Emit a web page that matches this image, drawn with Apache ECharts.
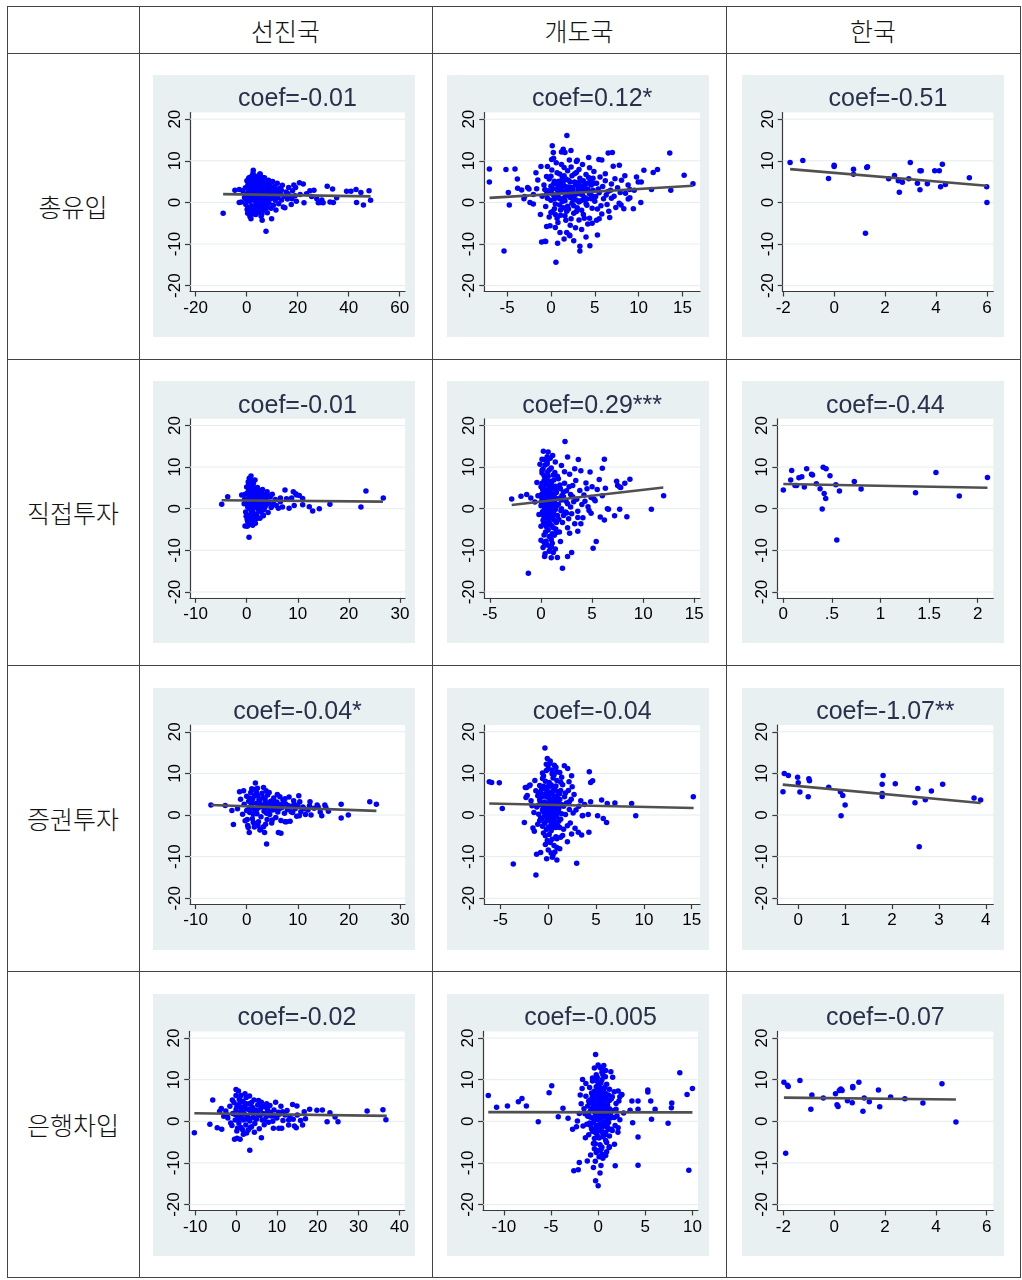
<!DOCTYPE html>
<html><head><meta charset="utf-8">
<script src="https://cdn.jsdelivr.net/npm/echarts@6/dist/echarts.min.js"></script>
<style>
html,body{margin:0;padding:0;background:#fff;}
#wrap{position:relative;width:1022px;height:1280px;overflow:hidden;}
.ln{position:absolute;background:#444;}
.hd{position:absolute;font-family:"Noto Sans CJK KR",sans-serif;font-weight:300;font-size:25px;color:#111;transform:translate(-50%,-50%);white-space:nowrap;}
.bg{position:absolute;background:#e9f0f2;}
#chart{position:absolute;left:0;top:0;width:1022px;height:1280px;}
</style></head><body>
<div id="wrap"><div id="chart"></div></div>
<script>
// ---------- labels ----------
const colLabels = ['선진국', '개도국', '한국'];
const rowLabels = ['총유입', '직접투자', '증권투자', '은행차입'];
const coefLabels = ['coef=-0.01', 'coef=0.12*', 'coef=-0.51',
                    'coef=-0.01', 'coef=0.29***', 'coef=-0.44',
                    'coef=-0.04*', 'coef=-0.04', 'coef=-1.07**',
                    'coef=-0.02', 'coef=-0.005', 'coef=-0.07'];
// ---------- axes ----------
const yTicks = [-20, -10, 0, 10, 20];
const yRange = [-21.4, 21.6];
const xTicks = [[-20,0,20,40,60],[-5,0,5,10,15],[-2,0,2,4,6],
                [-10,0,10,20,30],[-5,0,5,10,15],[0,0.5,1,1.5,2],
                [-10,0,10,20,30],[-5,0,5,10,15],[0,1,2,3,4],
                [-10,0,10,20,30,40],[-10,-5,0,5,10],[-2,0,2,4,6]];
const xTickLabels = [['-20','0','20','40','60'],['-5','0','5','10','15'],['-2','0','2','4','6'],
                ['-10','0','10','20','30'],['-5','0','5','10','15'],['0','.5','1','1.5','2'],
                ['-10','0','10','20','30'],['-5','0','5','10','15'],['0','1','2','3','4'],
                ['-10','0','10','20','30','40'],['-10','-5','0','5','10'],['-2','0','2','4','6']];
const xMins = [-22.2, -7.6, -2.02, -11.1, -5.55, -0.062, -11.1, -6.69, -0.446, -11.46, -12.2, -2.24];
const xMaxs = [62.1, 17.0, 6.25, 31.0, 15.56, 2.16, 31.0, 15.87, 4.16, 41.3, 10.58, 6.26];
// ---------- fitted lines (endpoints) ----------
const fitX0 = [-9.2, -7.0, -1.73, -4.9, -2.87, 0.0, -7.0, -6.17, -0.33, -10.2, -11.65, -1.98];
const fitX1 = [48.6, 16.2, 6.0, 26.7, 11.97, 2.1, 25.4, 15.2, 3.89, 36.9, 10.0, 4.79];
const fitY0 = [2.0, 1.1, 8.0, 2.05, 0.9, 5.95, 2.4, 2.75, 7.3, 1.95, 2.2, 5.7];
const fitY1 = [1.45, 4.0, 4.0, 1.7, 5.1, 5.03, 1.0, 1.7, 2.9, 1.3, 2.15, 5.25];

// ---------- scatter data ----------
const advTotal = [[-1.5,2.8],[-0.8,1.2],[-0.5,3.5],[0,0.5],[0.2,2.1],[0.5,4.2],[0.6,-1.2],[0.8,5.8],[1,2.7],[1.2,0.3],[1.3,3.8],[1.5,-2.1],[1.6,1.5],[1.8,4.9],[2,6.3],[2,-0.8],[2.2,2.4],[2.4,3.2],[2.5,0.9],[2.6,-2.8],[2.8,5.1],[3,1.8],[3,4.4],[3.1,-1.5],[3.3,2.9],[3.4,0.2],[3.5,6.1],[3.6,3.6],[3.8,-0.6],[3.9,1.3],[4,4.8],[4.1,2.2],[4.3,-2.4],[4.4,3.1],[4.5,0.7],[4.6,5.4],[4.8,1.9],[5,-1.1],[5,3.9],[5.2,2.6],[5.3,6.8],[5.4,0.1],[5.6,4.5],[5.7,-3.3],[5.8,1.4],[6,3.2],[6.1,5.2],[6.2,-0.4],[6.4,2.3],[6.5,4.1],[6.6,0.8],[6.8,-1.9],[6.9,3.5],[7,5.9],[7.2,1.6],[7.3,-0.9],[7.5,2.9],[7.6,4.7],[7.8,0.4],[8,2.1],[8.1,-2.5],[8.3,3.7],[8.5,1.2],[8.6,5.3],[8.8,-0.2],[9,2.6],[9.2,4.3],[9.4,0.9],[9.6,-1.4],[9.8,3.1],[10,1.7],[10.2,5],[10.5,-0.7],[10.7,2.4],[11,3.8],[11.2,0.5],[11.5,-1.8],[11.8,2.9],[12,4.6],[12.3,1.1],[12.6,-0.3],[13,3.4],[13.3,2],[13.7,0.6],[14,4.1],[14.4,-1.1],[15,-1.3],[15.5,2.5],[16,0.8],[16.5,3.6],[17,1.5],[17.5,-0.5],[18,2.8],[18.5,4.2],[19.2,3.6],[19.5,0.3],[20.7,4.7],[21,1.9],[22.2,4.4],[22.5,-0.1],[23.5,2.1],[24.8,2.8],[25.5,1.4],[26.4,2.9],[27.5,0.9],[28.1,-0.1],[29,0],[29.5,0.6],[30,-0.1],
 [0.3,1.0],[0.9,3.1],[1.4,2.0],[1.9,1.1],[2.3,4.0],[2.7,2.2],[3.2,3.3],[3.7,1.0],[4.2,2.7],[4.7,3.6],[5.1,1.6],[5.5,2.9],[5.9,0.6],[6.3,3.8],[6.7,2.0],[7.1,3.3],[7.4,0.9],[0.1,5.2],[1.1,6.0],[2.9,6.4],[4.0,5.9],[-0.3,-0.5],[0.4,-2.6],[1.0,-1.6],[2.1,-2.0],[3.6,-2.9],[4.9,-2.2],[6,-2.7],[7.9,-1.2],
 [0.6,2.4],[1.2,4.6],[1.7,0.6],[2.1,3.1],[2.6,4.8],[3.1,0.9],[3.5,2.4],[3.9,4.2],[4.4,1.4],[4.9,2.8],[5.3,0.5],[5.7,3.7],[6.1,1.1],[6.6,4.6],[7,2.4],[7.5,0.1],[8,3.4],[8.4,1.8],[8.9,2.9],[9.5,1.6],[10.5,2.9],[11.4,1.3],[12.2,2.4],[13.6,3],[14.8,1.5],[16.2,2.1],[17.8,0.9],[19,1.6],[2.3,-1.1],[3.4,-1.6],[4.6,-0.9],[5.8,-1.3],[1.3,1.7],[1.9,5.5],[3.3,5.8],[4.3,6.3],[2.5,7],[6.3,6],[0.2,-1.7],[8.7,4],
 [-9.2,-2.6],[-4.6,2.9],[-2.9,3.1],[-2.9,0],[-2,0.1],[2.6,7.7],[5.2,6.8],[1.3,-3.4],[1.7,-3.9],[6.1,-4.3],[7.6,-6.9],[9.8,-3.9],[31.6,3.9],[33.7,3.2],[32.7,0.1],[35.3,1.1],[34,0],[39.2,2.7],[40.9,2.7],[42.9,3.1],[43.1,0],[44.8,2.4],[45.8,-0.6],[48,2.8],[48.6,0.5]];

const devTotal = [[-1,1.5],[-0.8,4.2],[-0.6,-1],[-0.5,6.2],[-0.3,2.8],[-0.2,-3.5],[0,0.5],[0,3.9],[0.1,7.8],[0.2,-2.2],[0.3,1.8],[0.4,5.1],[0.5,-0.4],[0.6,9.5],[0.7,3.1],[0.8,-4.8],[0.9,1.2],[1,6.8],[1.1,-1.8],[1.2,4.4],[1.3,0.2],[1.4,2.5],[1.5,8.4],[1.6,-3.2],[1.7,5.6],[1.8,1.6],[1.9,-0.9],[2,3.7],[2.1,10.2],[2.2,-5.5],[2.3,2.2],[2.4,6.4],[2.5,0.8],[2.6,-2.6],[2.7,4.9],[2.8,1.9],[2.9,7.2],[3,-1.3],[3.1,3.3],[3.2,-4.2],[3.3,5.8],[3.4,0.4],[3.5,2.7],[3.6,9.1],[3.7,-2.9],[3.8,4.1],[3.9,1.1],[4,6.7],[4.1,-0.7],[4.2,3.2],[4.3,10.8],[4.4,-3.8],[4.5,5.3],[4.6,1.7],[4.7,-5],[4.8,2.9],[4.9,7.4],[5,0.3],[5.2,4.6],[5.3,-1.6],[5.5,2.3],[5.6,6.1],[5.8,-2.8],[5.9,3.8],[6,0.9],[6.2,5.2],[6.4,-0.5],[6.5,2.6],[6.7,-3.6],[6.9,4.4],[7,12],[7.2,1.5],[7.4,-1.2],[7.6,3.5],[7.8,8.9],[8,-0.6],[8.5,2.2],[9,1.1],[9.4,-1.5],[-1.5,5.4],[-2,1.9],[-2.5,3.2],[-3,1.4],[-0.4,8.6],[0.3,10.6],[1.8,-7.2],[3.5,-6.5],[2.6,-9.2],[1.5,-8.8],[-0.6,-9.4],[0.5,-6],[4.2,-5.2],[5.5,-3.9],[1.2,12.1],[2.9,9.8],[5.8,10.2],[6.2,6.9],
 [0.2,3.3],[0.4,0.9],[0.6,4.7],[0.8,2.3],[1,-0.6],[1.1,3.6],[1.3,5.9],[1.5,1.1],[1.6,3.9],[1.8,-2.1],[2,2.6],[2.2,4.9],[2.4,-0.2],[2.5,3.1],[2.7,6.9],[2.9,0.6],[3.1,4.7],[3.3,2.1],[3.5,-1.9],[3.7,5.2],[3.9,3.3],[4.1,0.8],[4.3,6],[4.5,2.5],[4.7,-1.4],[4.9,4.6],[5.1,1.4],[5.4,3.2],[0,6.3],[0.5,-2.9],[-0.4,1],[-0.7,3.1],[1.7,-4.3],[2.3,8.5],[3.2,7.9],[3.8,-3.8],[4.4,8.3],[5.7,-0.8],[6.3,1.8],[6.8,2.9],[7.3,5.7],[0.9,5.1],[1.4,-1.3],[2.6,1.4],[3.4,3.8],[4.6,4.2],[-0.1,-5.6],[1.2,9.1],[2.1,-7.8],[6.6,-2.1],[8.8,4.2],[9.5,2.9],[-1.2,-2.9],[5.2,-4.3],[0.7,-3.8],[3.0,10.1],[4.0,-8.3],[2.8,-6.1],[6.9,1.0],[7.9,2.4],
 [0.1,2.2],[0.3,4.4],[0.6,1.4],[0.8,3.8],[1.0,0.9],[1.2,2.9],[1.4,4.9],[1.6,0.4],[1.8,3.2],[2.0,5.3],[2.2,1.2],[2.4,3.6],[2.6,-0.8],[2.8,4.2],[3.0,2.4],[3.2,0.1],[3.4,5.1],[3.6,1.8],[3.8,3.4],[4.0,-0.3],[4.2,4.6],[4.4,2.1],[4.6,0.9],[4.8,5.8],[0.4,-1.5],[1.1,-3.1],[2.0,-1.6],[2.9,-2.2],[3.7,0.7],[-0.2,5.6],[0.7,7.1],[1.9,7.6],[0.0,-2.4],[1.5,6.4],[2.3,-3.9],[-0.5,2.0],
 [-7.02,8.0],[-7.02,4.9],[-5.13,7.9],[-5.35,-11.7],[-4.86,2.4],[-4.75,-0.6],[-4.1,8.0],[-3.83,5.6],[-3.8,3.4],[-3.34,3.0],[-3.08,0.9],[-2.66,3.6],[-2.39,0],[-2.01,-0.4],[-1.71,7.1],[-1.63,3.3],[-1.14,8.6],[-1.06,-9.5],[-0.68,-9.3],[-0.49,-5.8],[0.08,10.3],[0.15,13.6],[0.27,12.0],[0.57,-14.4],[0.76,-9.8],[1.03,-7.2],[1.4,12.8],[1.6,12.0],[1.82,16.1],[2.28,12.5],[2.16,-8.0],[3.3,-11.7],[3.3,-10.5],[4.44,-10.4],[5.3,-7.8],[5.47,10.3],[6.53,11.9],[7.1,8.7],[8.05,5.3],[8.43,6.4],[7.78,-0.2],[8.31,-1.5],[8.81,0.8],[9.0,3.1],[9.76,6.1],[9.95,4.9],[10.3,4.9],[10.6,7.7],[10.25,0],[11.66,7.2],[12.15,7.9],[11.47,3.1],[13.55,11.9],[13.67,2.9],[15.19,6.5],[16.2,4.5]];

const korTotal = [[-1.73,9.57],[-1.23,10.05],[-0.22,5.74],[0,8.9],[0,8.6],[0.76,7.97],[0.76,6.78],[1.23,-7.4],[1.28,8.4],[1.31,8.55],[2.14,5.66],[2.37,6.46],[2.52,5.18],[2.56,2.47],[2.68,4.86],[2.93,5.66],[2.99,9.57],[3.27,4.62],[3.37,7.58],[3.42,7.58],[3.37,3.03],[3.66,4.46],[3.95,7.58],[4.13,7.58],[4.18,3.75],[4.25,9.17],[4.37,4.3],[5.31,5.9],[5.99,3.75],[6.0,0]];

const advFdi = [[-0.5,1.2],[-0.3,3.5],[-0.2,-0.8],[0,2.1],[0,5.2],[0.1,-2.6],[0.2,0.4],[0.2,3.9],[0.3,6.4],[0.4,1.5],[0.4,-1.7],[0.5,2.8],[0.6,4.7],[0.6,-3.4],[0.7,0.8],[0.8,3.2],[0.8,6.1],[0.9,-0.6],[1,1.9],[1,4.3],[1.1,-2.2],[1.2,2.6],[1.2,5.6],[1.3,0.1],[1.4,3.7],[1.4,-1.2],[1.5,1.3],[1.6,4.9],[1.7,-3.5],[1.8,2.3],[1.9,0.6],[2,3.4],[2,-1.9],[2.1,5.1],[2.2,1.7],[2.3,-0.3],[2.4,2.9],[2.5,4.2],[2.6,-2.3],[2.7,1],[2.8,3.8],[2.9,0.2],[3,2.5],[3.1,4.6],[3.2,-1.5],[3.3,1.6],[3.5,3.1],[3.6,0.5],[3.8,2],[4,4.1],[4.2,-0.9],[4.4,1.4],[4.6,2.8],[4.8,0.3],[5,3.5],[5.3,1.1],[5.6,2.2],[6.2,0.1],[6.6,2.6],[7,0.4],[7.8,2.4],[8.3,0.1],[8.8,2.6],[9.3,0.8],[9.6,3.6],[10.3,3.2],[0.5,7.3],[0.1,-4.2],[1.9,-2.4],
 [0.1,1.2],[0.3,2.4],[0.4,4.3],[0.5,0.1],[0.6,1.9],[0.7,3.6],[0.8,-1.3],[0.9,2.9],[1,0.6],[1.1,4.8],[1.1,1.3],[1.2,-0.8],[1.3,2.2],[1.5,3.4],[1.6,0.4],[1.7,1.6],[1.8,4.5],[1.9,-1.4],[2.1,2.4],[2.2,0.9],[2.3,3.9],[2.5,1.1],[2.6,2.8],[2.8,-0.8],[3,1.3],[3.2,3.5],[3.4,-0.2],[3.7,2.6],[3.9,1],[4.3,3.2],[0.2,-3.1],[0.7,-2.5],[1.4,-2.9],[0.4,5.8],[1.3,6.1],[0.9,6.9],[-0.4,2.3],[-0.1,-1.8],[5.8,0.8],[6.6,1.7],
 [-4.89,1.05],[-3.72,2.89],[-0.98,3.28],[-0.33,-4.14],[0.2,-4.06],[0.46,-6.87],[0.85,7.83],[1.63,6.87],[1.17,-3.98],[3.26,-1.67],[7.5,4.48],[9.13,4.08],[9.78,3.28],[10.96,2.48],[10.96,0.97],[12.26,0.49],[12.92,-0.55],[14.22,0],[16.3,1.05],[22.37,0.41],[23.35,4.24],[26.75,2.56]];

const devFdi = [[-0.3,3.1],[-0.2,-1.4],[0,0.7],[0,5.3],[0,-4.2],[0.1,2.2],[0.1,8.6],[0.2,-2.8],[0.2,4.4],[0.3,-0.5],[0.3,6.7],[0.3,-6.3],[0.4,1.6],[0.4,10.5],[0.5,-3.5],[0.5,3.6],[0.5,7.5],[0.6,-1.1],[0.6,-8.7],[0.7,2.8],[0.7,5.9],[0.7,-5.1],[0.8,0.2],[0.8,9.3],[0.9,-2.1],[0.9,4.1],[0.9,12.1],[1,1.4],[1,-7.4],[1,6.3],[1.1,-0.4],[1.1,3.2],[1.2,-4.6],[1.2,8.1],[1.3,1.9],[1.3,-2.8],[1.4,5.4],[1.4,-9.7],[1.5,0.6],[1.5,3.9],[1.6,-1.6],[1.7,7.2],[1.8,2.5],[1.8,-5.6],[1.9,4.8],[2,0],[2,10.4],[2.1,-3.3],[2.2,2.9],[2.3,6.1],[2.4,-0.8],[2.5,4.3],[2.6,1.2],[2.7,-2.4],[2.8,8.3],[2.9,3.4],[3,-1.2],[3.1,5.6],[3.2,1.7],[3.3,-3.6],[3.4,6.8],[3.5,2.3],[3.6,-0.6],[3.8,4.4],[3.9,9.1],[4,1],[4.1,-2.2],[4.2,3.3],[4.4,6.2],[4.6,0.5],[4.7,-0.4],[4.8,8.8],[4.9,2.7],[5,5.3],[5.3,1.9],[5.5,4.6],[5.8,-2],[6,3.1],[6.3,4.9],[6.6,-0.1],[7.5,5.6],[7.7,5.2],[-0.1,10.7],[0.3,11.8],[0.6,12.5],[1.2,-10.5],[0.4,-10.8],[1.6,-11.7],[0.2,-9.3],[1.5,-5.7],[1.9,-7.9],[-0.4,6.3],[-0.6,1.6],[-1,2.6],
 [0.05,1.5],[0.1,-1.3],[0.15,4.8],[0.2,2.9],[0.25,-3.7],[0.3,7.9],[0.35,0.3],[0.4,3.9],[0.45,-5.6],[0.5,5.9],[0.55,1.1],[0.6,-2.3],[0.65,8.8],[0.7,0.9],[0.75,3.4],[0.8,-3.1],[0.85,6.6],[0.9,-0.9],[0.95,2.4],[1,9.8],[1.05,-4.1],[1.1,4.9],[1.15,-1.9],[1.2,0.7],[1.25,6.9],[1.3,-6.4],[1.35,2.7],[1.4,-0.2],[1.45,4.6],[1.5,-3.3],[1.6,7.8],[1.7,1.1],[1.75,-2.6],[1.85,5.7],[1.95,-0.5],[2.05,3.2],[2.2,-1.6],[2.3,8.9],[2.45,1.8],[2.6,-4.6],[2.75,5.3],[2.9,0.4],[3.1,2.9],[3.3,9.6],[3.6,-2.1],[0.0,-7.6],[0.5,-7.8],[0.9,-9.4],[1.1,-8.3],[0.2,9.6],[0.6,10.8],[1.4,11.2],[0.1,11.9],[0.7,13.6],[4.3,1.8],[4.5,4.8],[5.2,2.3],[3.9,-3.6],[4.9,-1.1],[0.35,-11.5],[1.0,-11.8],[0.8,-10.2],
 [0.05,3.4],[0.1,6.1],[0.15,-0.7],[0.2,1.1],[0.25,5.0],[0.3,-2.0],[0.35,2.4],[0.4,7.0],[0.45,-0.9],[0.5,4.5],[0.55,-4.4],[0.6,2.1],[0.65,0.1],[0.7,7.8],[0.75,-1.7],[0.8,4.9],[0.85,1.8],[0.9,-3.8],[0.95,6.0],[1.0,0.1],[1.05,2.8],[1.1,-6.0],[1.15,5.4],[1.2,2.3],[1.25,-1.2],[1.3,3.6],[1.35,8.7],[1.4,1.2],[1.45,-4.9],[0.0,3.0],[0.3,-8.1],[0.8,-6.7],[0.1,9.2],[0.6,11.4],[1.0,-9.0],[2.0,2.1],[2.5,-1.0],[2.2,4.0],
 [-2.87,2.32],[-1.96,3.0],[-1.4,3.4],[-1.24,-15.48],[0.23,13.8],[1.14,12.8],[2.35,16.12],[2.6,12.4],[3.65,11.8],[2.1,-14.3],[2.6,-11.5],[3.0,-10.5],[2.8,-5.9],[3.6,-5.4],[5.1,-9.5],[5.4,-7.9],[5.7,7.0],[6.0,9.7],[6.2,11.9],[6.2,-2.7],[6.5,0],[7.2,-1.7],[7.4,6.6],[7.7,-0.1],[7.8,5.1],[8.2,6.1],[8.4,-1.9],[8.7,7.1],[10.8,-0.1],[12.0,3.1]];

const korFdi = [[0,4.48],[0.076,6.87],[0.086,9.19],[0.12,5.6],[0.137,5.6],[0.16,7.43],[0.19,7.67],[0.216,5.2],[0.24,9.59],[0.29,8.3],[0.30,8.07],[0.34,5.99],[0.378,4.8],[0.40,-0.07],[0.41,9.99],[0.42,3.68],[0.436,2.48],[0.44,9.59],[0.48,7.91],[0.54,5.76],[0.55,-7.5],[0.577,4.24],[0.73,6.55],[0.80,4.72],[1.36,3.84],[1.57,8.71],[1.81,3.04],[2.10,7.51]];

const advPort = [[-1.8,1.5],[-1.2,3.8],[-0.8,0.2],[-0.5,2.6],[-0.3,-1.4],[0,4.5],[0,1.1],[0.2,-2.5],[0.4,3.3],[0.6,0.6],[0.8,5.4],[0.9,2.1],[1.1,-0.9],[1.2,3.9],[1.4,1.4],[1.6,6.1],[1.7,-2.2],[1.9,2.8],[2,0.3],[2.2,4.6],[2.3,-1.6],[2.5,1.9],[2.6,3.5],[2.8,-0.4],[3,5.2],[3.1,2.4],[3.3,-2.8],[3.4,0.9],[3.6,3.9],[3.8,1.6],[4,-1.1],[4.1,4.8],[4.3,2.9],[4.5,0.1],[4.7,3.3],[4.9,-1.9],[5.1,1.2],[5.3,4.1],[5.5,2.2],[5.7,-0.6],[5.9,3.1],[6.1,0.7],[6.3,2.5],[6.5,4.4],[6.7,-1.3],[6.9,1.8],[7.1,3.6],[7.4,0.4],[7.6,2.7],[7.8,-1.6],[8,1.3],[8.3,4.3],[8.5,-1.5],[8.8,2.1],[9,0.6],[9.2,3.4],[9.5,1.5],[9.8,-0.3],[10,2.4],[10.6,0.8],[11,1.9],[11.5,0.1],[12,1.2],[12.6,0],[13.2,1.6],[14,1.9],[14.4,0.7],[15.5,1.8],[16,0.9],[0.3,-3],[1.5,-2.9],[2.7,-3.4],[6.2,-4.2],[-0.6,5.8],[1,6.3],[2.1,6.4],[4.4,5.4],[0.7,2],[1.8,1.2],[2.4,2.9],[3.5,1.9],[4.6,1.2],[1.3,0.2],[3.9,0.4],[5.4,2.8],
 [0.5,1.6],[1,2.9],[1.5,4.6],[2,1.4],[2.4,3.7],[2.9,2],[3.2,4.2],[3.7,3],[4.2,1.8],[4.8,2.4],[5.2,3.6],[5.6,1.3],[6,4.9],[6.4,1.5],[7,2.6],[7.5,3.9],[8.1,2.3],[8.7,0.8],[9.3,2.5],[10.4,3.2],[11.3,1.5],[12.3,2.2],[0.1,-1.1],[1.3,-1.8],[2.2,-2.5],[3.7,-2.2],[5,-1.2],[0.6,4.1],[1.9,5.5],[3.8,5.8],
 [-7.0,2.4],[-4.2,2.3],[-2.9,1.1],[-2.6,-2.3],[-1.4,5.6],[0.5,-4.2],[1.7,7.7],[3.3,6.6],[2.6,-3.6],[3.5,-4.2],[3.9,-6.95],[6.7,-4.4],[10.2,4.6],[7.5,-1.6],[10.3,-0.2],[12.4,3.2],[13.8,2.4],[14.7,-0.2],[15.3,2.4],[18.5,2.6],[18.5,-0.7],[19.9,0],[24.1,3.2],[25.4,2.6]];

const devPort = [[-1.8,3.4],[-1.5,0.6],[-1.3,5.8],[-1.1,-2.2],[-1,2.4],[-0.9,7.1],[-0.8,-0.7],[-0.7,4.3],[-0.6,1.2],[-0.5,-4.3],[-0.5,9.4],[-0.4,3.1],[-0.3,-1.6],[-0.3,6.2],[-0.2,0.3],[-0.1,2.7],[-0.1,-6.1],[0,4.9],[0,-2.9],[0,11.1],[0.1,1.6],[0.1,7.8],[0.2,-0.5],[0.2,3.6],[0.3,-3.8],[0.3,5.4],[0.4,0.9],[0.4,9.9],[0.5,-1.8],[0.5,2.2],[0.6,6.7],[0.6,-7.3],[0.7,4],[0.7,-0.2],[0.8,1.9],[0.8,-5.2],[0.9,8.3],[1,3.1],[1,-2.6],[1.1,0.6],[1.2,5.1],[1.3,-1],[1.4,2.5],[1.5,7.3],[1.6,-3.4],[1.7,4.4],[1.8,0.1],[1.9,2.9],[2,-6.4],[2.1,5.9],[2.2,1.3],[2.3,-1.9],[2.4,3.8],[2.6,0.5],[2.7,4.9],[2.8,-3.2],[3.2,2.1],[3.4,3.4],[3.6,-0.1],[1.2,-8.1],[0.5,-9.6],[0.9,-10.8],[-0.8,-9.0],[0.2,13],[-0.2,10.7],[0.8,11.5],[1.2,10.2],[-1.9,7.2],[-2.2,4.7],[-2.4,6.6],
 [-1.2,1.9],[-1.1,4.6],[-0.9,-1.4],[-0.8,2.8],[-0.7,6.4],[-0.6,-2.7],[-0.5,0.8],[-0.4,4.9],[-0.4,-0.3],[-0.3,8.1],[-0.2,2.2],[-0.2,-3.5],[-0.1,5.8],[0,1.3],[0,-1.1],[0.1,3.9],[0.1,-4.7],[0.2,6.9],[0.2,0.5],[0.3,2.8],[0.3,-2.2],[0.4,5.2],[0.4,-5.8],[0.5,0.2],[0.5,8.9],[0.6,3.4],[0.6,-1.3],[0.7,1.6],[0.7,6],[0.8,-3],[0.8,4.5],[0.9,0.9],[0.9,-7.8],[1,5.6],[1,1.9],[1.1,-1.5],[1.2,3.7],[1.3,7.9],[1.4,0.3],[1.5,-4.9],[1.6,2.1],[1.8,5.3],[2,-2.6],[2.2,3.2],[-1.6,-3.1],[-1.4,8.3],[-1.7,2.2],[0,-8.4],[0.3,-9.1],[-0.3,-7.1],[0.7,-8.9],[0.4,10.8],[-0.6,10.1],[0.9,10.4],[1.4,9.1],[-1,5.1],[2.5,6.8],[2.9,1.2],[3.8,2.5],[-0.2,12.2],
 [-1.0,0.2],[-0.9,3.6],[-0.8,5.6],[-0.7,-0.9],[-0.6,2.3],[-0.5,6.9],[-0.4,-2.0],[-0.3,1.8],[-0.2,4.4],[-0.1,-0.5],[0,2.0],[0,6.9],[0.1,0.2],[0.1,4.8],[0.2,-1.4],[0.2,2.6],[0.3,7.3],[0.3,0.8],[0.4,-3.2],[0.4,3.3],[0.5,5.8],[0.5,-0.8],[0.6,1.1],[0.6,4.2],[0.7,-2.2],[0.8,2.9],[0.8,7.0],[0.9,-0.4],[1.0,4.0],[1.1,1.5],[1.2,-3.0],[1.3,5.9],[-0.3,-5.0],[0.2,-6.6],[0.9,-5.7],[-0.6,8.8],[0.6,9.6],[0.0,12.0],
 [-6.17,7.98],[-5.92,7.82],[-5.12,7.74],[-4.81,1.59],[-3.66,-11.74],[-2.5,-1.77],[-2.33,4.22],[-2.26,6.62],[-1.98,7.02],[-1.46,-3.92],[-1.22,-9.43],[-1.29,-14.38],[-0.35,16.12],[-0.1,13.56],[0.18,12.45],[0.63,11.97],[1.68,11.81],[2.97,-11.58],[0.42,-10.14],[-0.17,-10.53],[1.29,-5.36],[2.44,-4.56],[2.44,9.41],[2.17,7.98],[2.03,11.17],[3.14,-4.16],[3.49,-4.8],[3.56,-0.17],[4.25,-4.16],[4.18,0.15],[4.29,10.37],[4.43,7.82],[4.64,8.22],[4.43,3.19],[5.16,-0.17],[5.58,3.59],[5.75,-0.81],[6.1,-1.77],[6.17,2.79],[6.97,2.87],[8.72,2.79],[9.15,-0.17],[15.17,4.38]];

const korPort = [[-0.325,5.58],[-0.297,9.97],[-0.21,9.49],[-0.013,9.1],[0,7.74],[0.036,5.5],[0.213,4.38],[0.227,8.69],[0.24,8.22],[0.65,6.7],[0.9,5.58],[0.914,-0.17],[0.95,4.7],[1.0,2.39],[1.79,7.42],[1.79,5.18],[1.79,4.46],[1.81,9.49],[2.07,7.5],[2.49,2.95],[2.55,6.38],[2.58,-7.6],[2.71,3.66],[2.84,5.74],[3.08,7.42],[3.75,4.06],[3.89,3.59]];

const advBank = [[-2.5,2.5],[-2,0.8],[-1.5,3.6],[-1,-1],[-0.8,1.9],[-0.5,4.5],[-0.2,0.3],[0,2.8],[0,6.2],[0.2,-2.3],[0.3,1.4],[0.5,3.9],[0.7,-0.4],[0.8,5.3],[1,2.2],[1.2,-1.5],[1.3,3.3],[1.5,0.7],[1.7,4.8],[1.8,-3.1],[2,1.8],[2.2,3.8],[2.4,-0.9],[2.5,5.7],[2.7,1.2],[2.9,2.9],[3,-2.1],[3.2,4.2],[3.4,0.1],[3.6,2.4],[3.8,-1.3],[4,3.4],[4.2,1],[4.4,5.1],[4.6,-0.5],[4.8,2.7],[5,0.5],[5.3,3.9],[5.5,1.6],[5.7,-1.8],[6,2.9],[6.2,4.6],[6.4,0.3],[6.6,1.9],[6.9,-0.8],[7.1,3.5],[7.4,1.1],[7.7,2.4],[8,-0.2],[8.3,3.8],[8.6,1.3],[9,0],[9.3,2.7],[9.7,4.6],[10,0.8],[10.4,2.2],[11,3.6],[11.5,0.2],[12,1.5],[12.5,2.6],[13.2,1.1],[14,0.5],[15,1.5],[15.8,0.2],[16.3,-0.9],[17,0.6],[-4,2.4],[-3,1.2],[-3.6,3.1],[1,-4.3],[2.6,-2.8],[4.5,-2.6],[0.6,7.3],[3.3,6.1],[5.5,5],[7.5,4.2],[1.1,1.1],[2,2.9],[3,0.9],[4,2.3],[0.5,0.5],
 [-0.3,1.7],[0.2,3.5],[0.6,1],[1,4.5],[1.4,2.6],[1.8,0.3],[2.3,4.3],[2.8,0.5],[3.3,2.9],[3.8,4.5],[4.3,1.9],[4.8,0.6],[5.2,2.2],[5.9,1.4],[6.4,3.6],[7,0.3],[7.7,2.9],[8.4,2.1],[9.2,1.3],[10.6,1.7],[11.4,2.3],[12.9,0.3],[-1.3,-0.4],[0.4,-1.6],[1.6,-2],[3.5,-1.5],[-0.9,5.1],[1.2,6.2],[2.2,6.6],[-2.2,1.6],
 [-10.2,-2.72],[-6.4,-0.73],[-5.7,5.1],[-4.6,-1.52],[-3.5,-1.92],[-0.36,-4.32],[0.26,-4.08],[0,7.66],[3.37,-6.95],[6.22,-3.92],[9.15,-1.68],[10.48,-1.68],[11.19,-1.68],[12.88,-0.89],[13.86,4.06],[14.92,3.67],[14.3,-1.13],[14.75,-1.52],[16.7,2.31],[18.03,2.87],[19.8,2.63],[21.14,2.71],[22.3,-0.09],[23.0,2.07],[24.25,1.03],[24.97,-0.09],[32.1,2.47],[35.97,2.79],[36.7,0.39]];

const devBank = [[-1.4,1.8],[-1.3,6],[-1.2,-0.7],[-1.1,3.7],[-1,-3.2],[-0.9,8.1],[-0.8,1],[-0.8,5.2],[-0.7,-1.8],[-0.6,2.8],[-0.6,9.7],[-0.5,-5.3],[-0.5,4.6],[-0.4,0.2],[-0.4,7.2],[-0.3,-2.7],[-0.3,3.3],[-0.2,11.2],[-0.2,-7.5],[-0.1,1.5],[-0.1,5.9],[0,-0.9],[0,3.9],[0,8.7],[0.1,-4],[0.1,2.3],[0.2,6.4],[0.2,-1.8],[0.3,0.6],[0.3,4.5],[0.4,10],[0.4,-6.2],[0.5,2.9],[0.5,-2.9],[0.6,7.6],[0.6,1.2],[0.7,-0.5],[0.7,5.1],[0.8,3.4],[0.8,-4.6],[0.9,0],[0.9,8.9],[1,2.1],[1,-1.4],[1.1,6.3],[1.2,-3.5],[1.2,3],[1.3,0.8],[1.4,5.4],[1.5,-2.2],[1.6,2.6],[1.7,7.1],[1.8,-1],[1.9,4.3],[2,1.3],[2.1,-2.6],[2.2,4.9],[2.3,0.4],[2.5,6.4],[2.7,2],[-1.6,-1.1],[-1.8,4.2],[-2,1.9],[-2.3,-1.3],[-2.2,0.1],[-1.7,7.9],[0.1,-8.5],[-0.3,-9.6],[0.5,-8.9],[0.3,-10.6],[1.2,-6.1],[0.8,12.2],[0.2,12.9],[-0.6,10.4],
 [-1.1,1.2],[-1,4.9],[-0.9,-0.4],[-0.8,2.6],[-0.7,6.8],[-0.6,-2.4],[-0.5,0.7],[-0.5,3.9],[-0.4,-4.1],[-0.3,5.7],[-0.3,1.4],[-0.2,-1.2],[-0.2,8.3],[-0.1,3],[-0.1,-3.3],[0,5.1],[0,0.4],[0.1,7.5],[0.1,-2],[0.2,2.7],[0.2,-5.6],[0.3,9.2],[0.3,-0.7],[0.4,3.6],[0.4,6],[0.5,-3.7],[0.5,1.5],[0.6,4.6],[0.6,-1.2],[0.7,8.1],[0.7,2.2],[0.8,-2.6],[0.8,6.7],[0.9,1.6],[0.9,-5.1],[1,4],[1.1,-0.3],[1.2,7.7],[1.3,2.4],[1.4,-1.9],[1.5,5.9],[1.7,0.9],[-1.3,9.1],[-1.5,3],[0,-7],[0.4,-7.9],[-0.4,-6.6],[-0.1,10.6],[0.5,11.2],[-0.8,-8.1],[0.9,-7.3],[1.9,2.9],[2.3,5.9],[-1.9,6.3],[0.6,13.4],[0.2,-12.4],[-0.5,-11.1],
 [-1.0,2.0],[-0.9,4.4],[-0.8,-1.0],[-0.7,3.0],[-0.6,6.0],[-0.5,-0.3],[-0.4,2.3],[-0.4,4.9],[-0.3,-1.8],[-0.2,1.0],[-0.2,6.6],[-0.1,3.7],[0,-2.2],[0,1.8],[0,6.9],[0.1,0.5],[0.1,4.2],[0.2,-0.9],[0.2,8.1],[0.3,2.2],[0.3,5.2],[0.4,-2.4],[0.4,1.0],[0.5,3.8],[0.5,7.0],[0.6,-0.2],[0.7,2.9],[0.7,-3.3],[0.8,5.8],[0.9,0.8],[1.0,3.2],[1.1,-1.9],[1.2,5.0],[1.3,1.6],[-0.3,-5.4],[0.3,-6.8],[0.8,-8.2],[-0.1,9.6],[0.4,11.8],[-0.4,12.8],
 [-11.65,6.22],[-10.77,3.35],[-9.62,3.66],[-8.46,4.7],[-8.08,5.5],[-7.61,3.66],[-6.35,-0.09],[-5.2,6.86],[-4.92,8.54],[-3.73,3.11],[-4.23,1.11],[-3.19,0.71],[-2.71,-1.92],[-2.58,-11.89],[-2.11,-11.65],[-2.0,-9.91],[-1.65,10.05],[-1.35,-3.92],[-1.15,-9.51],[-0.27,-14.3],[0,-15.5],[-0.27,16.04],[0,13.5],[0.39,12.6],[0.77,10.69],[1.35,11.89],[1.81,-10.7],[1.73,-5.5],[1.16,-6.3],[1.54,10.61],[2.12,7.26],[2.12,-1.52],[2.5,6.46],[3.39,2.63],[3.58,4.86],[3.66,-0.33],[4.23,4.86],[4.23,2.87],[4.23,-3.76],[4.23,-10.55],[5.27,7.5],[5.27,7.02],[5.58,4.86],[5.66,0.47],[6.04,2.87],[7.42,-0.49],[7.81,4.38],[7.77,3.27],[8.66,11.65],[9.43,6.46],[9.62,-11.74],[10.0,7.9]];

const korBank = [[-1.98,9.41],[-1.91,-7.67],[-1.84,8.69],[-1.81,8.38],[-1.35,9.81],[-0.92,2.87],[-0.88,6.3],[-0.43,5.58],[0.05,6.62],[0.11,3.98],[0.15,3.58],[0.2,7.42],[0.26,7.74],[0.31,7.42],[0.52,4.94],[0.71,4.46],[0.73,8.38],[0.73,8.06],[0.97,9.41],[1.13,2.39],[1.18,5.58],[1.38,4.7],[1.74,7.5],[1.79,3.5],[2.22,5.82],[2.78,5.42],[3.49,4.38],[4.24,9.01],[4.79,-0.17]];

const panelData = [advTotal, devTotal, korTotal, advFdi, devFdi, korFdi, advPort, devPort, korPort, advBank, devBank, korBank];

// ---------- layout (pixels) ----------
const hLines = [6, 53, 359, 665, 971, 1277];
const vLines = [7, 139, 432, 726, 1020];
const colCenters = [285.5, 579, 873];
const rowCenters = [206, 512, 818, 1124];
const panelLeft = [153, 447, 742];
const panelTop0 = 75, rowStep = 306.3, panelW = 262, panelH = 262;
const plotLeft = [[190,484.3,782.7],[190,484.3,777.3],[190,484.3,777.3],[189.2,483.1,777.3]];
const plotRight = [[405,700,993.3],[405,700,993.3],[405,700,993.3],[404.7,697.9,993.3]];
const plotTopOff = 37.5, plotH = 179;

const wrap = document.getElementById('wrap');
function addDiv(cls, css, text) {
  const d = document.createElement('div');
  d.className = cls;
  Object.assign(d.style, css);
  if (text) d.textContent = text;
  wrap.insertBefore(d, wrap.firstChild);
}
for (let r = 0; r < 4; r++) for (let c = 0; c < 3; c++) {
  addDiv('bg', {left: panelLeft[c] + 'px', top: (panelTop0 + r * rowStep) + 'px', width: panelW + 'px', height: panelH + 'px'});
}
hLines.forEach(y => addDiv('ln', {left: vLines[0] + 'px', top: y + 'px', width: (vLines[4] - vLines[0] + 1) + 'px', height: '1px'}));
vLines.forEach(x => addDiv('ln', {left: x + 'px', top: hLines[0] + 'px', width: '1px', height: (hLines[5] - hLines[0] + 1) + 'px'}));
colLabels.forEach((t, i) => addDiv('hd', {left: colCenters[i] + 'px', top: '30px'}, t));
rowLabels.forEach((t, i) => addDiv('hd', {left: '73px', top: rowCenters[i] + 'px'}, t));

const chart = echarts.init(document.getElementById('chart'), null, {renderer: 'canvas'});
const grids = [], xAxes = [], yAxes = [], series = [], titles = [];
const axisCol = '#3a3a3a';
for (let i = 0; i < 12; i++) {
  const r = Math.floor(i / 3), c = i % 3;
  const top = panelTop0 + r * rowStep + plotTopOff;
  const left = plotLeft[r][c], right = plotRight[r][c];
  grids.push({left: left, top: top, width: right - left, height: plotH, containLabel: false,
    outerBoundsMode: 'none', show: true, backgroundColor: '#ffffff', borderWidth: 0});
  const labs = xTickLabels[i], tv = xTicks[i];
  xAxes.push({type: 'value', gridIndex: i, min: xMins[i], max: xMaxs[i],
    axisLine: {show: true, onZero: false, lineStyle: {color: axisCol, width: 1.2}},
    axisTick: {show: true, length: 5, customValues: tv, lineStyle: {color: axisCol, width: 1.2}},
    axisLabel: {show: true, customValues: tv, margin: 8, fontSize: 17, color: '#000', fontFamily: 'Liberation Sans, Arial, sans-serif',
      formatter: v => { const k = tv.findIndex(t => Math.abs(t - v) < 1e-9); return k >= 0 ? labs[k] : ''; }},
    splitLine: {show: false}});
  yAxes.push({type: 'value', gridIndex: i, min: yRange[0], max: yRange[1],
    axisLine: {show: true, onZero: false, lineStyle: {color: axisCol, width: 1.2}},
    axisTick: {show: true, length: 5, customValues: yTicks, lineStyle: {color: axisCol, width: 1.2}},
    axisLabel: {show: true, customValues: yTicks, rotate: 90, margin: 6, fontSize: 17, color: '#000', fontFamily: 'Liberation Sans, Arial, sans-serif'},
    splitLine: {show: false}});
  // faint horizontal gridlines at the y ticks, drawn beneath the points
  yTicks.forEach(v => series.push({type: 'line', xAxisIndex: i, yAxisIndex: i, z: 0, silent: true,
    showSymbol: false, symbol: 'none', data: [[xMins[i], v], [xMaxs[i], v]],
    lineStyle: {color: '#e3ecee', width: 1}, animation: false}));
  series.push({type: 'scatter', xAxisIndex: i, yAxisIndex: i, data: panelData[i], z: 2,
    symbol: 'circle', symbolSize: 5.5, itemStyle: {color: '#0000ff', opacity: 1}, animation: false});
  series.push({type: 'line', xAxisIndex: i, yAxisIndex: i, z: 3, showSymbol: false, symbol: 'none',
    data: [[fitX0[i], fitY0[i]], [fitX1[i], fitY1[i]]],
    lineStyle: {color: '#505050', width: 2.6}, animation: false});
  titles.push({text: coefLabels[i], left: (left + right) / 2, top: panelTop0 + r * rowStep + 12, textAlign: 'center', padding: 0,
    textStyle: {fontFamily: 'Liberation Sans, Arial, sans-serif', fontSize: 25, fontWeight: 'normal', color: '#27314a'}});
}
chart.setOption({animation: false, title: titles, grid: grids, xAxis: xAxes, yAxis: yAxes, series: series});
</script>
</body></html>
